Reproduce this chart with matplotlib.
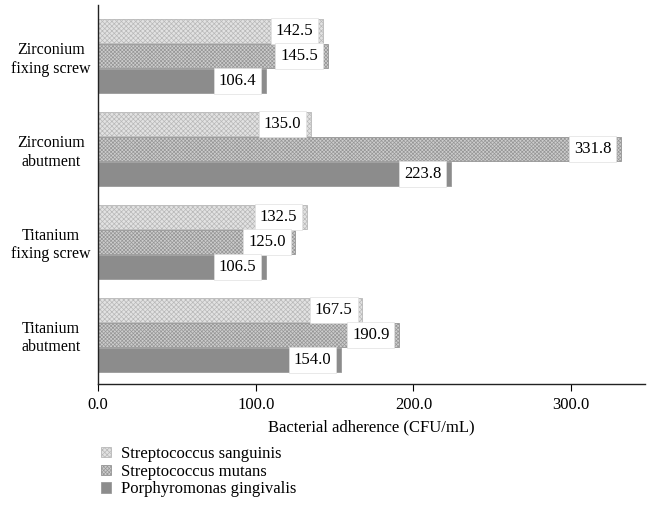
import matplotlib.pyplot as plt
import numpy as np

plt.rcParams['font.family'] = ['Liberation Serif', 'DejaVu Serif']
plt.rcParams['hatch.linewidth'] = 0.5

categories = ['Titanium\nabutment', 'Titanium\nfixing screw', 'Zirconium\nabutment', 'Zirconium\nfixing screw']
sanguinis = [167.5, 132.5, 135.0, 142.5]
mutans = [190.9, 125.0, 331.8, 145.5]
gingivalis = [154.0, 106.5, 223.8, 106.4]
series_names = ['Streptococcus sanguinis', 'Streptococcus mutans', 'Porphyromonas gingivalis']

fig = plt.figure(figsize=(6.55, 5.15), dpi=100)
ax = fig.add_axes([0.150, 0.254, 0.835, 0.736])

y = np.arange(len(categories))
h = 0.27
styles = [
    dict(facecolor='#e2e2e2', hatch='xxxxxxx', edgecolor='#b8b8b8'),
    dict(facecolor='#cdcdcd', hatch='xxxxxxxxx', edgecolor='#969696'),
    dict(facecolor='#8c8c8c', hatch=None, edgecolor='#9a9a9a'),
]
bars = []
for k, (vals, st) in enumerate(zip([sanguinis, mutans, gingivalis], styles)):
    b = ax.barh(y + (1 - k) * h, vals, height=h * 0.96, label=series_names[k],
                linewidth=0.6, **st)
    bars.append(b)
    for yy, v in zip(y + (1 - k) * h, vals):
        ax.annotate(f'{v:.1f}', xy=(v, yy), xytext=(-7, 0), textcoords='offset points',
                    ha='right', va='center', fontsize=12,
                    bbox=dict(boxstyle='square,pad=0.3', facecolor='white',
                              edgecolor='#e0e0e0', linewidth=0.5))

ax.set_yticks(y)
ax.set_yticklabels(categories, fontsize=11.5, ha='center', multialignment='center')
ax.tick_params(axis='y', length=0, pad=34)
ax.set_xlim(0, 347)
ax.set_ylim(-0.53, 3.55)
ax.set_xticks([0, 100, 200, 300])
ax.set_xticklabels(['0.0', '100.0', '200.0', '300.0'], fontsize=12)
ax.tick_params(axis='x', length=5, width=0.8, direction='out', pad=4)
ax.set_xlabel('Bacterial adherence (CFU/mL)', fontsize=12, labelpad=5)
for s in ['top', 'right']:
    ax.spines[s].set_visible(False)
for s in ['left', 'bottom']:
    ax.spines[s].set_linewidth(1.0)
    ax.spines[s].set_color('#222222')

fig.legend(handles=bars, labels=series_names, loc='upper left',
           bbox_to_anchor=(0.132, 0.163), frameon=False, fontsize=12,
           handlelength=0.6, handleheight=0.6, handletextpad=0.6,
           labelspacing=0.1)

fig.savefig('out.png', dpi=100)
